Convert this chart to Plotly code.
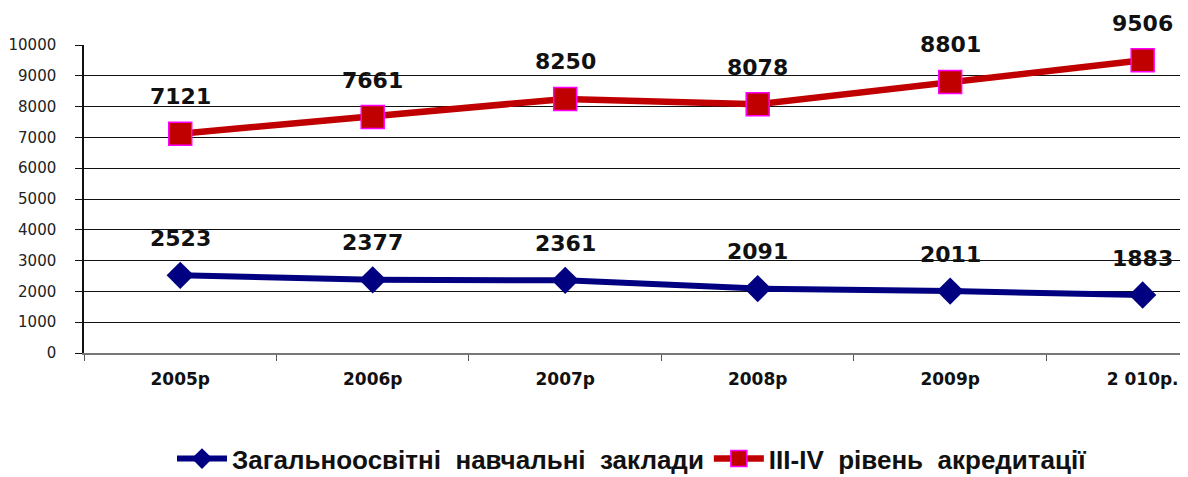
import plotly.graph_objects as go

# --- data ---
years = ["2005р", "2006р", "2007р", "2008р", "2009р", "2 010р."]
schools = [2523, 2377, 2361, 2091, 2011, 1883]
accred = [7121, 7661, 8250, 8078, 8801, 9506]
name_schools = "Загальноосвітні  навчальні  заклади"
name_accred = "III-IV  рівень  акредитації"
y_ticks = list(range(0, 10001, 1000))
y_ticktext = [str(v) for v in y_ticks]

fig = go.Figure()

fig.add_trace(go.Scatter(
    x=years, y=schools, name=name_schools,
    mode="lines+markers",
    line=dict(color="#000080", width=6),
    marker=dict(symbol="diamond", size=21, color="#000080"),
))
fig.add_trace(go.Scatter(
    x=years, y=accred, name=name_accred,
    mode="lines+markers",
    line=dict(color="#C00000", width=6.5),
    marker=dict(symbol="square", size=23, color="#C00000",
                line=dict(color="#FF00FF", width=1.5)),
))

# value labels above the points
for series in (schools, accred):
    for xv, yv in zip(years, series):
        fig.add_annotation(
            x=xv, y=yv, text=str(yv), showarrow=False,
            yshift=37,
            font=dict(family="DejaVu Sans", size=22, color="#111111", weight="bold"),
        )

# invisible trace on yaxis2 just for gridlines (no gridline at 10000)
fig.add_trace(go.Scatter(x=[years[0]], y=[0], yaxis="y2", showlegend=False,
                         hoverinfo="skip", mode="markers",
                         marker=dict(opacity=0)))

# page body has an 8px default margin -> figure is smaller and shifted
fig.update_layout(
    width=1172, height=469,
    margin=dict(l=76, r=0, t=37, b=124, autoexpand=False),
    plot_bgcolor="white", paper_bgcolor="white",
    showlegend=True,
    legend=dict(
        orientation="h", x=0.5, xanchor="center", y=-0.343, yanchor="middle",
        font=dict(family="Liberation Sans", size=26,
                  color="#111111", weight="bold"),
        itemwidth=50, tracegroupgap=0,
    ),
    xaxis=dict(
        range=[-0.5, 5.194],
        showline=True, linecolor="#777777", linewidth=2,
        ticks="outside", ticklen=6, tickcolor="#555555",
        tickson="boundaries",
        showgrid=False, zeroline=False, automargin=False,
        tickfont=dict(family="DejaVu Sans", size=17, color="#111111", weight="bold"),
        ticklabelstandoff=10,
    ),
    yaxis=dict(
        range=[0, 10000],
        tickvals=y_ticks, ticktext=y_ticktext,
        showline=True, linecolor="#111111", linewidth=1.5,
        ticks="outside", ticklen=7, tickcolor="#111111",
        showgrid=False, zeroline=False, automargin=False,
        tickfont=dict(family="DejaVu Sans", size=15, color="#222222"),
        ticklabelstandoff=16,
    ),
    yaxis2=dict(
        range=[0, 10000], overlaying="y",
        tickvals=y_ticks[1:-1],
        showgrid=True, gridcolor="#111111", gridwidth=1,
        showticklabels=False, zeroline=False, showline=False, automargin=False,
    ),
)

fig.write_html("out.html")
